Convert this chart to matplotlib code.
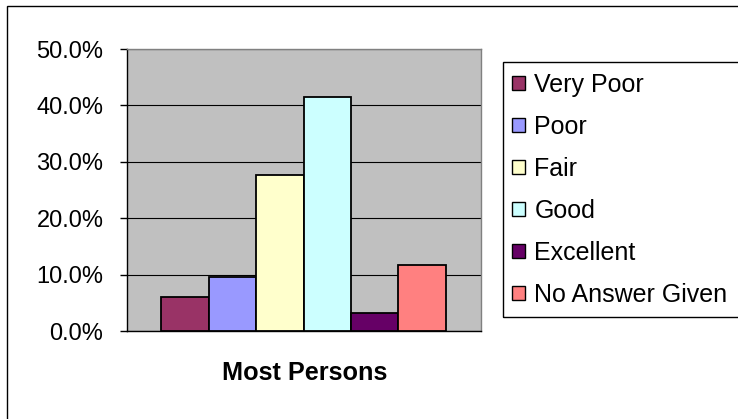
import matplotlib.pyplot as plt
from matplotlib.patches import Patch, Rectangle
import matplotlib.ticker as ticker

plt.rcParams['font.family'] = ['Liberation Sans', 'DejaVu Sans']

categories = ['Very Poor', 'Poor', 'Fair', 'Good', 'Excellent', 'No Answer Given']
values = [6.1, 9.6, 27.7, 41.5, 3.2, 11.7]
colors = ['#993366', '#9999FF', '#FFFFCC', '#CCFFFF', '#660066', '#FF8080']
group_label = 'Most Persons'
yticks = [0, 10, 20, 30, 40, 50]

W, H = 738, 419
fig = plt.figure(figsize=(W / 100, H / 100), dpi=100)
fig.patch.set_facecolor('white')

# outer chart frame (runs off the right/bottom edge like the original)
fig.patches.append(Rectangle((7 / W, -0.1), 1.2, 1 - 6 / H + 0.1, transform=fig.transFigure,
                             fill=False, edgecolor='black', linewidth=1.0))

ax = fig.add_axes([127 / W, 1 - 331 / H, 354 / W, 282 / H])
ax.set_facecolor('#C0C0C0')

x = list(range(len(values)))
ax.bar(x, values, width=1.0, color=colors, edgecolor='black', linewidth=1.3, zorder=3)

ax.set_xlim(-0.5 - 0.72, 5.5 + 0.74)
ax.set_ylim(0, 50)
ax.set_yticks(yticks)
ax.yaxis.set_major_formatter(ticker.FuncFormatter(lambda v, p: f'{v:.1f}%'))
ax.grid(axis='y', color='black', linewidth=0.8, zorder=1)
ax.set_xticks([])
ax.tick_params(axis='y', direction='out', length=5, width=1, labelsize=17, pad=12, colors='black')

for s in ['top', 'right']:
    ax.spines[s].set_color('#808080')
    ax.spines[s].set_linewidth(1.0)
ax.spines['left'].set_color('black')
ax.spines['bottom'].set_color('black')
ax.spines['left'].set_linewidth(1.0)
ax.spines['bottom'].set_linewidth(1.0)

fig.text(305 / W, 1 - 373 / H, group_label, ha='center', va='center',
         fontsize=18.2, fontweight='bold')

# legend box
fig.patches.append(Rectangle((503 / W, 1 - 317 / H), 1.0, (317 - 62) / H, transform=fig.transFigure,
                             fill=False, edgecolor='black', linewidth=1.0))
handles = [Patch(facecolor=c, edgecolor='black', linewidth=1.0) for c in colors]
fig.legend(handles, categories, loc='upper left', bbox_to_anchor=(512 / W, 1 - 73 / H),
           frameon=False, fontsize=18, borderpad=0, borderaxespad=0,
           handlelength=0.5, handleheight=0.5, handletextpad=0.4, labelspacing=0.72)

fig.savefig('out.png', dpi=100)
